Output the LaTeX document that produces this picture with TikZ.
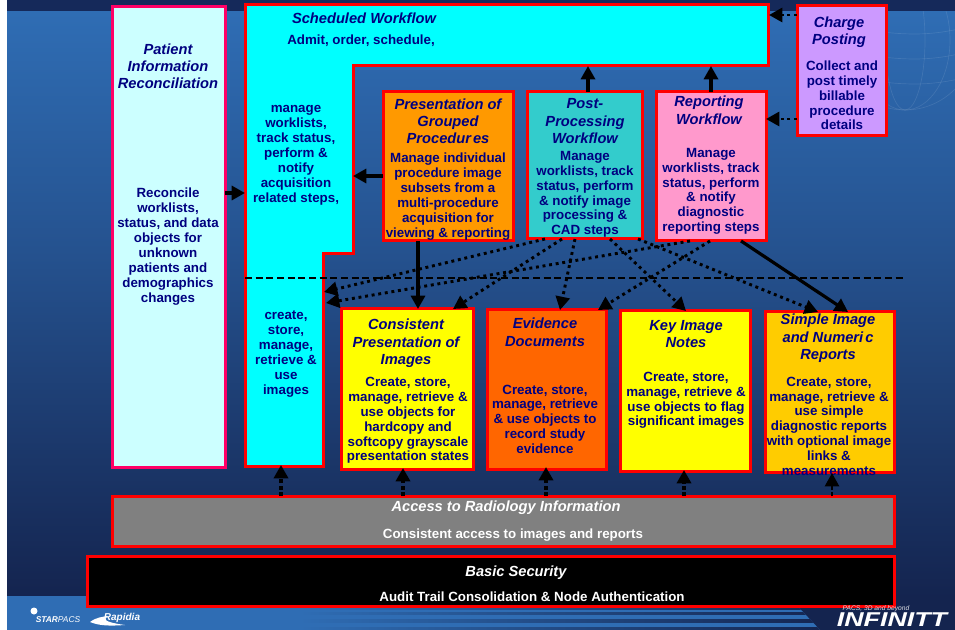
\documentclass[tikz,border=0pt]{standalone}
\usepackage{fontspec}
\setmainfont{Liberation Sans}
\usetikzlibrary{arrows.meta}
\definecolor{navy}{HTML}{000080}
\definecolor{redline}{HTML}{FF0000}
\definecolor{pinkline}{HTML}{FF0066}
\definecolor{bgtop}{HTML}{2F6DB4}
\definecolor{bgmid}{HTML}{25528F}
\definecolor{bgdark}{HTML}{14244F}
\definecolor{bandtop}{HTML}{15295A}
\definecolor{paleCyan}{HTML}{CCFFFF}
\definecolor{pureCyan}{HTML}{00FFFF}
\definecolor{pureYellow}{HTML}{FFFF00}
\definecolor{lilac}{HTML}{CC99FF}
\definecolor{orangeA}{HTML}{FF9900}
\definecolor{tealA}{HTML}{33CCCC}
\definecolor{pinkA}{HTML}{FF99CC}
\definecolor{orangeB}{HTML}{FF6600}
\definecolor{goldA}{HTML}{FFCC00}
\definecolor{greyA}{HTML}{808080}
\newcommand\pbox[6]{\node[box,fill=#6,minimum width={(#4-#2)*0.75pt},minimum height={(#5-#3)*0.75pt}] (#1) at ({(#2+#4)/2},{(#3+#5)/2}) {};}
\tikzset{
 x=0.75pt,y=-0.75pt,
 box/.style={draw=redline,line width=2.25pt,inner sep=0pt,outer sep=0pt},
 ttl/.style={text=navy,font=\fontsize{11pt}{13pt}\selectfont\bfseries\itshape,align=center,inner sep=0pt,yshift=-1pt},
 bdy/.style={text=navy,font=\fontsize{10pt}{11.2pt}\selectfont\bfseries,align=center,inner sep=0pt,yshift=-1pt},
 wttl/.style={ttl,text=white},
 wbdy/.style={bdy,text=white},
 solidarrow/.style={line width=2.4pt,-{Triangle[length=10pt,width=10.5pt]}},
 dotarrow/.style={line width=2.2pt,dash pattern=on 2.2pt off 2.8pt,-{Triangle[length=10pt,width=10.5pt]}},
 uparrow/.style={line width=2.8pt,dash pattern=on 3pt off 1.8pt,-{Triangle[length=10pt,width=10.5pt]}},
}
\begin{document}
\begin{tikzpicture}
\useasboundingbox (0,0) rectangle (955,630);
% background
\fill[white] (0,0) rectangle (955,630);
\fill[bandtop] (7,0) rectangle (955,12);
\shade[top color=bgtop,bottom color=bgmid] (7,12) rectangle (955,250);
\shade[top color=bgmid,bottom color=bgdark] (7,250) rectangle (955,597);
\fill[bgdark] (7,597) rectangle (955,630);
\fill[bgtop] (7,596) rectangle (300,630);
\begin{scope}
\clip (300,596) -- (788,596) -- (820,630) -- (300,630) -- cycle;
\fill[bgtop] (300,596) rectangle (830,630);
\foreach \ya/\yb in {606/609,612/614,619/622,627/630}{
  \shade[left color=bgtop,right color=bgdark] (300,\ya) rectangle (830,\yb);}
\end{scope}
% globe
\begin{scope}
\clip (860,12) rectangle (955,130);
\foreach \r in {20,45,70}{\draw[white,opacity=.1,line width=.5pt] (905,40) ellipse ({\r} and 70);}
\foreach \d in {-40,-15,10,35}{\draw[white,opacity=.1,line width=.5pt] (835,40+\d) .. controls (905,52+\d) and (930,52+\d) .. (975,40+\d);}
\end{scope}
% logos
\node[inner sep=0pt,text=white,font=\fontsize{6.3pt}{8pt}\selectfont\bfseries\itshape] (starlogo) at (58,620) {STAR\textmd{PACS}};
\fill[white] (34,611) circle (3.5);
\node[inner sep=0pt,text=white,font=\fontsize{7.5pt}{9pt}\selectfont\bfseries\itshape] (rapidia) at (122,618) {Rapidia};
\fill[white] (90,622) .. controls (97,617) and (102,617) .. (108,616) .. controls (103,619) and (103,622) .. (125,625) .. controls (110,626) and (100,626) .. (90,622) -- cycle;
\node[inner sep=0pt,text=white,xscale=1.34,font=\fontsize{15pt}{16pt}\selectfont\bfseries\itshape] (infinitt) at (892,620) {INFINITT};
% boxes
\node[box,draw=pinkline,fill=paleCyan,minimum width={113*0.75pt},minimum height={460*0.75pt}] (patient) at (168.5,237) {};
\draw[redline,line width=2.25pt,fill=pureCyan,line join=miter]
  (245,5) -- (768,5) -- (768,66) -- (353,66) -- (353,254) -- (323,254) -- (323,466) -- (245,466) -- cycle;
\coordinate (schedLeft) at (245,193);
\coordinate (schedNotch) at (353,176);
\coordinate (schedPost) at (588,66);
\coordinate (schedRep) at (711,66);
\coordinate (schedRight) at (769,15);
\coordinate (schedLowA) at (324,292);
\coordinate (schedLowB) at (326,303);
\coordinate (schedBottom) at (281,465);
\pbox{charge}{797}{6}{886}{136}{lilac}
\pbox{present}{383}{92}{513}{241}{orangeA}
\pbox{post}{527}{92}{642}{239}{tealA}
\pbox{report}{656}{92}{766}{241}{pinkA}
\pbox{consist}{341}{309}{473}{469}{pureYellow}
\pbox{evidence}{487}{310}{606}{469}{orangeB}
\pbox{keyimg}{620}{311}{750}{471}{pureYellow}
\pbox{simple}{765}{312}{894}{472}{goldA}
\pbox{access}{112}{496}{894}{546}{greyA}
\pbox{security}{87}{556}{894}{606}{black}
\node[inner sep=0pt,text=white!85!bgdark,font=\fontsize{5pt}{5.5pt}\selectfont\itshape] (tagline) at (876,608.5) {PACS, 3D and beyond};
% dashed divider
\coordinate (divL) at (245,278);
\coordinate (divR) at (904,278);
\draw[black,line width=1.6pt,dash pattern=on 5.2pt off 2.8pt] (divL) -- (divR);
% texts
\node[ttl] (t1) at (168,65) {Patient\\Information\\Reconciliation};
\node[bdy] (b1) at (168,245) {Reconcile\\worklists,\\status, and data\\objects for\\unknown\\patients and\\demographics\\changes};
\node[ttl] (t2) at (364,17) {Scheduled Workflow};
\node[bdy] (b2a) at (361,39) {Admit, order, schedule,};
\node[bdy] (b2b) at (296,154) {manage\\worklists,\\track status,\\perform \&\\notify\\acquisition\\related steps,};
\node[bdy] (b2c) at (286,353) {create,\\store,\\manage,\\retrieve \&\\use\\images};
\node[ttl] (t3) at (839,31) {Charge\\Posting};
\node[bdy] (b3) at (842,94) {Collect and\\post timely\\billable\\procedure\\details};
\node[ttl] (t4) at (448,120) {Presentation of\\Grouped\\Procedur\kern1.5pt es};
\node[bdy] (b4) at (448,195) {Manage individual\\procedure image\\subsets from a\\multi-procedure\\acquisition for\\viewing \& reporting};
\node[ttl] (t5) at (585,120) {Post-\\Processing\\Workflow};
\node[bdy] (b5) at (585,193) {Manage\\worklists, track\\status, perform\\\& notify image\\processing \&\\CAD steps};
\node[ttl] (t6) at (709,109) {Reporting\\Workflow};
\node[bdy] (b6) at (711,190) {Manage\\worklists, track\\status, perform\\\& notify\\diagnostic\\reporting steps};
\node[ttl] (t7) at (406,342) {Consistent\\Presentation of\\Images};
\node[bdy] (b7) at (408,419) {Create, store,\\manage, retrieve \&\\use objects for\\hardcopy and\\softcopy grayscale\\presentation states};
\node[ttl] (t8) at (545,331) {Evidence\\Documents};
\node[bdy] (b8) at (545,418) {Create, store,\\manage, retrieve\\\& use objects to\\record study\\evidence};
\node[ttl] (t9) at (686,333) {Key Image\\Notes};
\node[bdy] (b9) at (686,399) {Create, store,\\manage, retrieve \&\\use objects to flag\\significant images};
\node[ttl] (t10) at (828,337) {Simple Image\\and Numeri\kern1.5pt c\\Reports};
\node[bdy] (b10) at (829,425) {Create, store,\\manage, retrieve \&\\use simple\\diagnostic reports\\with optional image\\links \&\\measurements};
\node[wttl] (t11) at (506,506) {Access to Radiology Information};
\node[wbdy] (b11) at (513,534) {Consistent access to images and reports};
\node[wttl] (t12) at (516,571) {Basic Security};
\node[wbdy] (b12) at (532,595) {Audit Trail Consolidation \& Node Authentication};
% solid connectors
\draw[solidarrow] (patient.east |- schedLeft) -- (schedLeft);
\draw[solidarrow] (present.west |- schedNotch) -- (schedNotch);
\draw[solidarrow] (post.north -| schedPost) -- (schedPost);
\draw[solidarrow] (report.north -| schedRep) -- (schedRep);
\draw[solidarrow] (present.south -| 418,0) -- (consist.north -| 418,0);
\draw[solidarrow] (report.south -| 741,0) -- (simple.north -| 848,0);
% dotted connectors
\draw[dotarrow] (charge.west |- schedRight) -- (schedRight);
\draw[dotarrow] (charge.west |- 0,119) -- (report.east |- 0,119);
\draw[dotarrow] (post.south -| 545,0) -- (schedLowA);
\draw[dotarrow] (report.south -| 690,0) -- (schedLowB);
\draw[dotarrow] (post.south -| 562,0) -- (consist.north -| 453,0);
\draw[dotarrow] (post.south -| 575,0) -- (evidence.north -| 560,0);
\draw[dotarrow] (report.south -| 710,0) -- (evidence.north -| 598,0);
\draw[dotarrow] (post.south -| 610,0) -- (keyimg.north -| 686,0);
\draw[dotarrow] (post.south -| 638,0) -- (simple.north -| 818,0);
% dotted up arrows
\draw[uparrow] (access.north -| schedBottom) -- (schedBottom);
\draw[uparrow] (access.north -| 403,0) -- (403,468);
\draw[uparrow] (access.north -| 546,0) -- (546,467);
\draw[uparrow] (access.north -| 684,0) -- (684,470);
\draw[uparrow,line width=1.8pt] (access.north -| 832,0) -- (832,473);
\end{tikzpicture}
\end{document}
